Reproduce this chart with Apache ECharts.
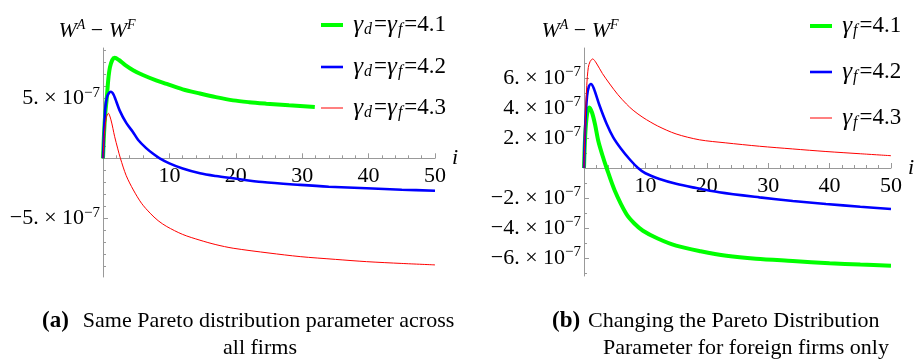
<!DOCTYPE html>
<html>
<head>
<meta charset="utf-8">
<script src="https://cdn.jsdelivr.net/npm/echarts@6/dist/echarts.min.js"></script>
<style>
  html, body { margin: 0; padding: 0; background: #fff; }
  #chart { width: 917px; height: 360px; }
</style>
</head>
<body>
<div id="chart"></div>
<script>
// W^A - W^F values are kept in units of 1e-7
// (a) same Pareto parameter for all firms
const leftGreenI = [0, 0.15, 0.35, 0.55, 0.8, 1.05, 1.4, 1.76, 2.4, 3.3, 4.6, 6, 8, 9.6, 12, 14.6, 17, 19.6, 22, 24.6, 28, 31.9]
const leftGreenW = [0, 2.0, 3.8, 4.9, 6.6, 7.6, 8.2, 8.38, 8.2, 7.8, 7.33, 6.95, 6.5, 6.2, 5.75, 5.4, 5.1, 4.83, 4.68, 4.56, 4.42, 4.28]
const leftBlueI = [0, 0.15, 0.35, 0.6, 0.9, 1.16, 1.6, 2.5, 3.5, 4.5, 5.3, 6.5, 7.5, 8.54, 10, 12, 14.6, 17, 19.6, 24, 29.7, 34, 39.7, 45, 50]
const leftBlueW = [0, 2.2, 4.2, 5.1, 5.45, 5.55, 5.3, 4.0, 2.95, 2.2, 1.53, 0.85, 0.4, 0, -0.42, -0.85, -1.25, -1.48, -1.67, -1.98, -2.22, -2.37, -2.5, -2.62, -2.7]
const leftRedI = [0, 0.2, 0.5, 0.8, 1.2, 1.76, 2.2, 2.62, 3.5, 4.57, 5.8, 7.1, 8.3, 9.6, 12, 14.6, 17, 19.6, 25, 29.7, 35, 39.7, 45, 50]
const leftRedW = [0, 2.0, 3.4, 3.75, 3.2, 1.8, 0.85, 0, -1.45, -2.64, -3.75, -4.58, -5.2, -5.69, -6.35, -6.83, -7.2, -7.5, -7.9, -8.2, -8.43, -8.62, -8.77, -8.89]

// (b) Pareto parameter changed for foreign firms only
const rightGreenI = [0, 0.2, 0.5, 0.86, 1.3, 1.8, 2.32, 3, 3.68, 5, 6.9, 8.2, 9.6, 12, 15, 19, 23.2, 28, 34, 40, 45, 50]
const rightGreenW = [0, 2.2, 3.6, 4.04, 3.7, 2.9, 1.82, 0.85, 0, -1.5, -3.07, -3.7, -4.18, -4.7, -5.18, -5.55, -5.85, -6.05, -6.2, -6.35, -6.44, -6.51]
const rightBlueI = [0, 0.2, 0.5, 0.8, 1.14, 1.6, 2.5, 3.7, 4.76, 6, 7.5, 8.8, 10, 12.3, 15, 17.7, 22, 28.6, 34, 39.4, 45, 50]
const rightBlueW = [0, 2.8, 4.8, 5.45, 5.6, 5.3, 4.2, 2.93, 2.04, 1.3, 0.55, 0, -0.35, -0.73, -1.05, -1.29, -1.62, -1.96, -2.2, -2.4, -2.58, -2.73]
const rightRedI = [0, 0.2, 0.45, 0.7, 1.0, 1.41, 2, 3, 4.2, 5.5, 6.9, 8, 9.6, 12, 15, 18.8, 23, 28.6, 34, 39.4, 45, 50]
const rightRedW = [0, 3.0, 5.5, 6.7, 7.1, 7.27, 7.0, 6.3, 5.6, 4.9, 4.27, 3.85, 3.37, 2.8, 2.27, 1.88, 1.68, 1.45, 1.27, 1.1, 0.95, 0.82]

const leftNames = ['γd=γf=4.1', 'γd=γf=4.2', 'γd=γf=4.3']
const rightNames = ['γf=4.1', 'γf=4.2', 'γf=4.3']
const xTicks = [10, 20, 30, 40, 50]
const leftYTicks = [-5, 5]
const leftYMinor = [-9, -8, -7, -6, -4, -3, -2, -1, 1, 2, 3, 4, 6, 7, 8, 9]
const rightYTicks = [-6, -4, -2, 2, 4, 6]
const rightYMinor = [-7, -5, -3, -1, 1, 3, 5, 7]

const serif = '"Liberation Serif", "Times New Roman", serif'
const axisGray = '#999999'
const colors = ['#00ff00', '#0000ff', '#ff0000']
const widths = [4, 2.6, 1]

const panels = [
  { left: 103, top: 48, width: 332, height: 229, yMin: -9.9, yMax: 9.2 },
  { left: 584, top: 48, width: 308, height: 228, yMin: -7.2, yMax: 8.0 }
]

function zip(xs, ys) {
  return xs.map((x, i) => [x, ys[i]])
}

function yLabel(v) {
  const sign = v < 0 ? '−' : ''
  return '{n|' + sign + Math.abs(v) + '. × 10}{e|−7}'
}

function legendText(name) {
  // split into gamma / subscript / plain pieces, each styled
  const parts = name.match(/γ[df]|[^γ]+/g)
  return '{p| }' + parts.map(p => p[0] === 'γ' ? '{g|γ}{s|' + p[1] + '}' : '{t|' + p + '}').join('')
}

const serifText = { fontFamily: serif, fontSize: 22, color: '#000' }

const tickLabelStyle = {
  color: '#000',
  fontFamily: serif,
  fontSize: 22,
  lineHeight: 26,
  rich: {
    n: Object.assign({ lineHeight: 26 }, serifText),
    e: { fontFamily: serif, fontSize: 15, lineHeight: 15, verticalAlign: 'top', color: '#000' }
  }
}

function xAxisFor(grid) {
  const p = panels[grid]
  return {
    gridIndex: grid,
    type: 'value',
    min: 0,
    max: 50,
    interval: 10,
    position: 'bottom',
    // lift the axis up to the zero level of the y scale
    offset: -p.height * (0 - p.yMin) / (p.yMax - p.yMin),
    name: 'i',
    nameLocation: 'end',
    nameGap: 14,
    nameTextStyle: { fontFamily: serif, fontStyle: 'italic', fontSize: 22, color: '#000' },
    axisLine: { onZero: false, lineStyle: { color: axisGray, width: 1 } },
    axisTick: { inside: true, length: 5, lineStyle: { color: axisGray } },
    minorTick: { show: true, splitNumber: 5, length: 3, lineStyle: { color: axisGray } },
    axisLabel: Object.assign({
      margin: 5,
      formatter: v => (xTicks.indexOf(v) >= 0 ? '{n|' + v + '}' : '')
    }, tickLabelStyle),
    splitLine: { show: false }
  }
}

function yAxesFor(grid, ticks, minor, namePad) {
  const p = panels[grid]
  return [{
    gridIndex: grid,
    type: 'value',
    position: 'left',
    min: p.yMin,
    max: p.yMax,
    name: '{w|W}{p|A}{m| − }{w|W}{p|F}',
    nameLocation: 'end',
    nameGap: 6,
    nameTextStyle: {
      padding: [0, namePad, 0, 0],
      lineHeight: 28,
      rich: {
        w: { fontFamily: serif, fontStyle: 'italic', fontSize: 22, color: '#000', verticalAlign: 'bottom', lineHeight: 24 },
        p: { fontFamily: serif, fontStyle: 'italic', fontSize: 14, color: '#000', verticalAlign: 'top', lineHeight: 14 },
        m: { fontFamily: serif, fontSize: 22, color: '#000', verticalAlign: 'bottom', lineHeight: 24 }
      }
    },
    axisLine: { show: true, onZero: false, lineStyle: { color: axisGray, width: 1 } },
    axisTick: { show: true, inside: true, length: 5, customValues: ticks, lineStyle: { color: axisGray } },
    axisLabel: Object.assign({ margin: 3, customValues: ticks, formatter: yLabel }, tickLabelStyle),
    splitLine: { show: false }
  }, {
    gridIndex: grid,
    type: 'value',
    position: 'left',
    offset: 0,
    min: p.yMin,
    max: p.yMax,
    axisLine: { show: false, onZero: false },
    axisTick: { show: true, inside: true, length: 3, customValues: minor, lineStyle: { color: axisGray } },
    axisLabel: { show: false },
    splitLine: { show: false }
  }]
}

function lineSeries(name, grid, yIndex, data, k) {
  return {
    name: name,
    type: 'line',
    xAxisIndex: grid,
    yAxisIndex: yIndex,
    data: data,
    showSymbol: false,
    smooth: 0.3,
    color: colors[k],
    lineStyle: { color: colors[k], width: widths[k] },
    z: 2 + k
  }
}

function legendFor(name, k, left, top) {
  return {
    data: [name],
    left: left,
    top: top,
    padding: 0,
    icon: 'rect',
    itemWidth: 22,
    itemHeight: widths[k],
    selectedMode: false,
    formatter: legendText,
    textStyle: {
      fontFamily: serif,
      fontSize: 23,
      lineHeight: 26,
      color: '#000',
      rich: {
        p: { fontFamily: serif, fontSize: 21, color: '#000' },
        t: { fontFamily: serif, fontSize: 23, color: '#000' },
        g: { fontFamily: serif, fontStyle: 'italic', fontSize: 25, color: '#000' },
        s: { fontFamily: serif, fontStyle: 'italic', fontSize: 16, lineHeight: 14, verticalAlign: 'bottom', color: '#000', padding: [0, 2, 0, 1] }
      }
    }
  }
}

const leftTops = [12, 54, 95]
const rightTops = [13, 59, 105]

const option = {
  animation: false,
  backgroundColor: '#fff',
  grid: panels.map(p => ({ left: p.left, top: p.top, width: p.width, height: p.height })),
  xAxis: [xAxisFor(0), xAxisFor(1)],
  yAxis: yAxesFor(0, leftYTicks, leftYMinor, 12).concat(yAxesFor(1, rightYTicks, rightYMinor, 8)),
  legend: leftNames.map((n, k) => legendFor(n, k, 321, leftTops[k]))
    .concat(rightNames.map((n, k) => legendFor(n, k, 810, rightTops[k]))),
  series: [
    lineSeries(leftNames[0], 0, 0, zip(leftGreenI, leftGreenW), 0),
    lineSeries(leftNames[1], 0, 0, zip(leftBlueI, leftBlueW), 1),
    lineSeries(leftNames[2], 0, 0, zip(leftRedI, leftRedW), 2),
    lineSeries(rightNames[0], 1, 2, zip(rightGreenI, rightGreenW), 0),
    lineSeries(rightNames[1], 1, 2, zip(rightBlueI, rightBlueW), 1),
    lineSeries(rightNames[2], 1, 2, zip(rightRedI, rightRedW), 2)
  ],
  graphic: [
    {
      type: 'text', x: 42, y: 321,
      style: {
        text: '{b|(a)}Same Pareto distribution parameter across',
        font: '22px "Liberation Serif"', fill: '#000', verticalAlign: 'middle',
        rich: { b: { font: 'bold 23px "Liberation Serif"', fill: '#000', padding: [0, 14, 0, 0] } }
      }
    },
    {
      type: 'text', x: 260, y: 348,
      style: { text: 'all firms', font: '22px "Liberation Serif"', fill: '#000', align: 'center', verticalAlign: 'middle' }
    },
    {
      type: 'text', x: 552, y: 321,
      style: {
        text: '{b|(b)}Changing the Pareto Distribution',
        font: '22px "Liberation Serif"', fill: '#000', verticalAlign: 'middle',
        rich: { b: { font: 'bold 23px "Liberation Serif"', fill: '#000', padding: [0, 8, 0, 0] } }
      }
    },
    {
      type: 'text', x: 746, y: 348,
      style: { text: 'Parameter for foreign firms only', font: '22px "Liberation Serif"', fill: '#000', align: 'center', verticalAlign: 'middle' }
    }
  ]
}

const myChart = echarts.init(document.getElementById('chart'), null, { renderer: 'canvas' })
myChart.setOption(option)
</script>
</body>
</html>
